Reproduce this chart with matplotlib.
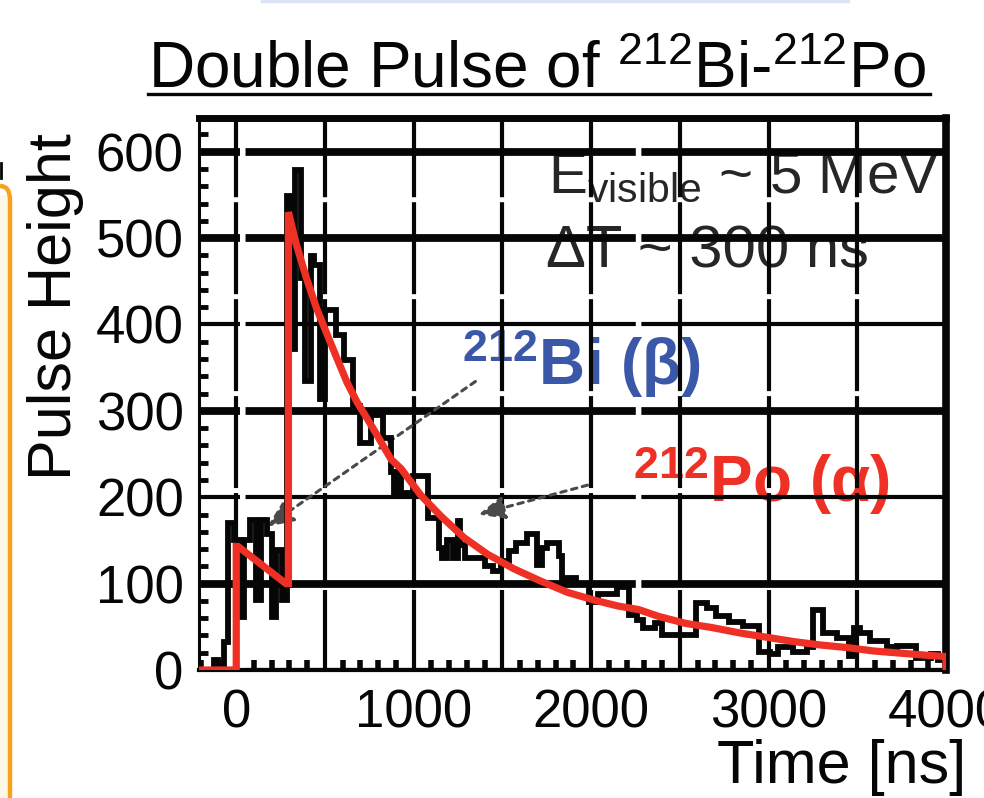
import matplotlib
matplotlib.use("Agg")
import matplotlib.pyplot as plt
from matplotlib.lines import Line2D
from matplotlib.patches import PathPatch, Rectangle
from matplotlib.path import Path
from matplotlib.ticker import MultipleLocator, FuncFormatter

plt.rcParams["lines.scale_dashes"] = False
plt.rcParams["font.family"] = ["Liberation Sans", "DejaVu Sans"]
plt.rcParams["mathtext.default"] = "regular"

# ─── Digitised waveform (step trace) ─────────────────────────────────────────
pulse_edges = [-210, -125, -105, -70, -45, -10, 25, 45, 80, 110, 140, 175, 200,
               225, 255, 285, 310, 330, 365, 385, 420, 440, 470, 500, 560, 610,
               660, 700, 760, 825, 870, 890, 910, 930, 995, 1080, 1145, 1160,
               1190, 1220, 1247, 1262, 1290, 1400, 1445, 1490, 1538, 1575, 1640,
               1697, 1725, 1753, 1818, 1837, 1912, 1987, 2040, 2146, 2212, 2258,
               2295, 2362, 2400, 2589, 2655, 2703, 2778, 2854, 2945, 3006, 3053,
               3138, 3214, 3252, 3309, 3384, 3451, 3479, 3517, 3574, 3669, 3725,
               3830, 3915, 3953, 4000]
pulse_height = [0, 12, 0, 32, 170, 150, 61, 150, 174, 81, 174, 158, 61, 139, 81,
                549, 372, 579, 454, 334, 479, 469, 314, 417, 388, 359, 306, 263,
                295, 269, 229, 202, 229, 205, 225, 176, 141, 130, 151, 130, 172,
                145, 130, 120, 115, 126, 138, 147, 157, 122, 141, 147, 132, 107,
                100, 79, 88, 96, 64, 58, 49, 54, 41, 78, 72, 62, 56, 51, 21, 19,
                27, 21, 27, 70, 43, 37, 16, 49, 43, 33, 27, 28, 14, 19, 12]

# ─── Double-pulse fit curve ──────────────────────────────────────────────────
fit_time = [-210, 0, 0, 10, 280, 294, 294, 338, 395, 452, 509, 567, 624, 681,
            738, 796, 872, 929, 1041, 1154, 1285, 1416, 1566, 1715, 1865, 2015,
            2153, 2267, 2381, 2532, 2684, 2835, 2987, 3138, 3290, 3441, 3593,
            3744, 3896, 4000, 4000]
fit_height = [0, 0, 143, 143, 100, 100, 530, 493, 454, 419, 390, 361, 333, 310,
              291, 271, 244, 233, 202, 178, 153, 134, 117, 103, 90, 81, 74, 70,
              62, 54, 49, 43, 38, 33, 29, 26, 22, 19.5, 17, 15.5, 0]

x_ticks_labelled = [0, 1000, 2000, 3000, 4000]

RED = "#ee3124"
BLUE = "#3b57a8"
INK = "#060606"

W, H = 984, 798
fig = plt.figure(figsize=(W / 100, H / 100), dpi=100)
ax = fig.add_axes([199 / W, 1 - 670 / H, (946 - 199) / W, (670 - 118) / H])
ax.set_xlim(-210, 4000)
ax.set_ylim(0, 639)
ax.set_axisbelow("line")

# grid: long dashes with a small gap, drawn above the text boxes
ax.xaxis.set_major_locator(MultipleLocator(500))
ax.xaxis.set_minor_locator(MultipleLocator(100))
ax.yaxis.set_major_locator(MultipleLocator(100))
ax.yaxis.set_minor_locator(MultipleLocator(20))
ax.xaxis.set_major_formatter(FuncFormatter(
    lambda v, _: f"{v:.0f}" if round(v) in x_ticks_labelled else ""))
ax.xaxis.grid(True, color=INK, linewidth=3.0, linestyle=(8.6, (66.2, 3.6)))
ax.yaxis.grid(True, color=INK, linewidth=3.0, linestyle=(251.5, (281.0, 4.0)))
for line, val in zip(ax.yaxis.get_gridlines(), ax.get_yticks()):
    if round(val) in (100, 300, 500, 600):
        line.set_linewidth(5.6)

ax.tick_params(which="major", length=0, labelsize=38, colors=INK)
ax.tick_params(axis="x", which="major", pad=13)
ax.tick_params(axis="y", which="major", pad=11)
ax.tick_params(which="minor", direction="in", color=INK)
ax.tick_params(axis="x", which="minor", length=7, width=4)
ax.tick_params(axis="y", which="minor", length=6.5, width=3.5)

for side, lw in {"top": 5.0, "right": 5.5, "left": 2.2, "bottom": 3.0}.items():
    ax.spines[side].set_linewidth(lw)
    ax.spines[side].set_color(INK)

# data
ax.stairs(pulse_height, pulse_edges, baseline=None, color=INK, linewidth=4.2,
          zorder=4)
ax.plot(fit_time, fit_height, color=RED, linewidth=5.2, zorder=5,
        solid_joinstyle="miter")

# arrows from the labels to the two pulses
arrow_style = dict(arrowstyle="-|>,head_length=0.8,head_width=0.35",
                   color="#4a4a4a", lw=2.2, linestyle=(0, (4, 4)),
                   shrinkA=0, shrinkB=0, mutation_scale=20)
ax.annotate("", xy=(175, 166), xytext=(1348, 334), arrowprops=arrow_style,
            zorder=3)
ax.annotate("", xy=(1365, 180), xytext=(1980, 214), arrowprops=arrow_style,
            zorder=3)

# in-plot labels (beneath the grid)
ax.text(1755, 552, r"E$_{visible}$ ~ 5 MeV", fontsize=42, color="#262626",
        zorder=1)
ax.text(1743, 466, "ΔT ~ 300 ns", fontsize=43, color="#262626", zorder=1)
ax.text(1275, 330, r"$^{212}$Bi (β)", fontsize=46, fontweight="bold",
        color=BLUE, zorder=1)
ax.text(2234, 194, r"$^{212}$Po (α)", fontsize=46, fontweight="bold",
        color=RED, zorder=1)

# axis titles
fig.text(56 / W, 1 - 307 / H, "Pulse Height", rotation=90, fontsize=44,
         ha="center", va="center", color=INK)
fig.text(966 / W, 1 - 783 / H, "Time [ns]", fontsize=44, ha="right",
         va="baseline", color=INK)

# heading with underline
fig.text(148 / W, 1 - 87 / H, r"Double Pulse of $^{212}$Bi-$^{212}$Po",
         fontsize=46, ha="left", va="baseline", color=INK)
fig.add_artist(Line2D([148 / W, 930 / W], [1 - 94 / H] * 2, color=INK, lw=2.4))

# neighbouring slide elements at the edges
fig.add_artist(Line2D([262 / W, 848 / W], [1 - 1 / H] * 2, color="#dbe5f7",
                      lw=2.5))
fig.add_artist(Rectangle((0, 0), 9 / W, 1 - 195 / H, transform=fig.transFigure,
                         facecolor="#fdf7e8", edgecolor="none"))
edge = Path([(0, 1 - 186 / H), (10 / W, 1 - 186 / H), (10 / W, 1 - 200 / H),
             (10 / W, 0)],
            [Path.MOVETO, Path.CURVE3, Path.CURVE3, Path.LINETO])
fig.add_artist(PathPatch(edge, transform=fig.transFigure, fill=False,
                         edgecolor="#f7a11c", lw=3.2))
fig.add_artist(Line2D([1 / W, 1 / W], [1 - 163 / H, 1 - 178 / H], color=INK,
                      lw=2.0))

fig.savefig("out.png", dpi=100)
